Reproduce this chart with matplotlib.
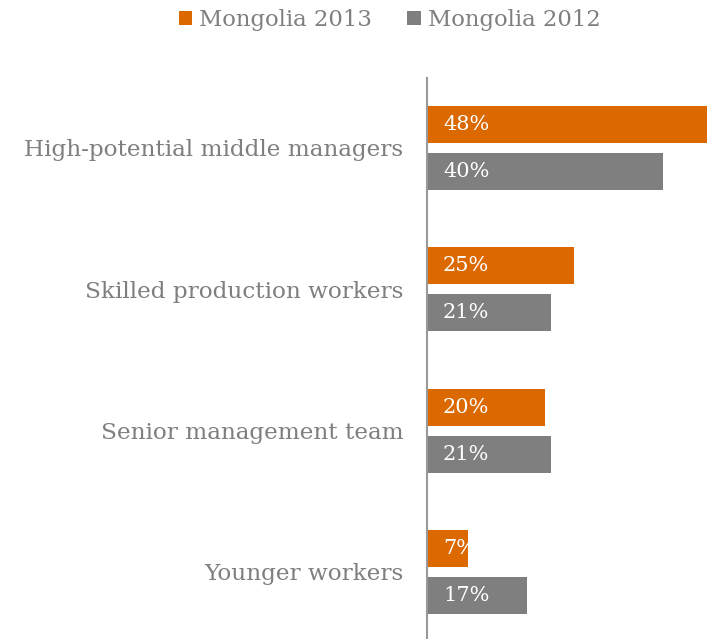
import matplotlib
matplotlib.use("Agg")
import matplotlib.pyplot as plt
import numpy as np

categories = ["High-potential middle managers", "Skilled production workers",
              "Senior management team", "Younger workers"]
series_names = ["Mongolia 2013", "Mongolia 2012"]
values_2013 = [48, 25, 20, 7]
values_2012 = [40, 21, 21, 17]
colors = ["#DC6900", "#7F7F7F"]
text_grey = "#7F7F7F"

plt.rcParams["font.family"] = ["DejaVu Serif"]

fig = plt.figure(figsize=(7.07, 6.39), dpi=100)
ax = fig.add_axes([0.604, 0.0, 0.396, 0.878])

y = np.arange(len(categories))
h = 0.262
off = 0.166
b1 = ax.barh(y - off, values_2013, height=h, color=colors[0], label=series_names[0])
b2 = ax.barh(y + off, values_2012, height=h, color=colors[1], label=series_names[1])

for bars, vals in ((b1, values_2013), (b2, values_2012)):
    for bar, v in zip(bars, vals):
        ax.text(2.7, bar.get_y() + bar.get_height() / 2, f"{v}%",
                color="white", fontsize=15, va="center", ha="left")

ax.set_xlim(0, 47.5)
ax.set_ylim(3.474, -0.495)
ax.set_yticks(y)
ax.set_yticklabels(categories, fontsize=16.7, color=text_grey)
ax.tick_params(axis="y", length=0, pad=17)
ax.set_xticks([])
for s in ("top", "right", "bottom"):
    ax.spines[s].set_visible(False)
ax.spines["left"].set_color("#999999")
ax.spines["left"].set_linewidth(1.5)

fig.legend(handles=[b1, b2], labels=series_names, loc="center",
           bbox_to_anchor=(0.551, 0.969), ncol=2, frameon=False,
           fontsize=16.4, labelcolor=text_grey, handlelength=0.6,
           handleheight=0.6, handletextpad=0.3, columnspacing=1.55)

fig.savefig("out.png", dpi=100)
